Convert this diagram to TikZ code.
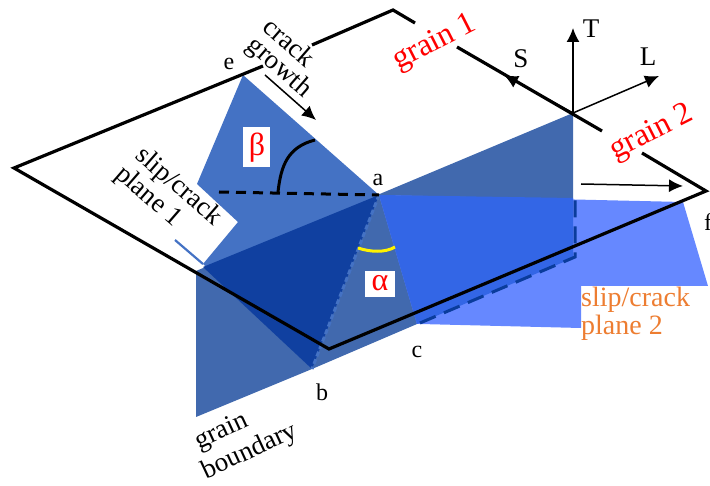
\documentclass[tikz,border=0pt]{standalone}
\usepackage{fontspec}
\setmainfont{Liberation Serif}
\usetikzlibrary{arrows.meta}
\definecolor{gbc}{HTML}{4169AE}
\definecolor{pone}{HTML}{4472C4}
\definecolor{ponedark}{HTML}{1040A0}
\definecolor{ptwo}{HTML}{6688FF}
\definecolor{ptwodark}{HTML}{3366E6}
\definecolor{dashblue}{HTML}{0A3C9C}
\definecolor{orangelab}{HTML}{ED7D31}
\tikzset{
  outline/.style={draw=black,line width=3.2pt,line join=miter},
  axis/.style={draw=black,line width=1.5pt,-{Latex[length=14pt,width=13pt]}},
  lab/.style={font=\fontsize{27}{27}\selectfont,inner sep=0pt,text=black},
  letterlab/.style={font=\fontsize{24}{24}\selectfont,inner sep=0pt,text=black},
  biglab/.style={font=\fontsize{27}{27}\selectfont,inner sep=0pt,text=black},
  redlab/.style={font=\fontsize{32}{32}\selectfont,inner sep=0pt,text=red},
  orlab/.style={font=\fontsize{28}{28}\selectfont,inner sep=0pt,text=orangelab,anchor=west}
}
\begin{document}
\begin{tikzpicture}[x=1pt,y=-1pt]
\useasboundingbox (0,0) rectangle (710,486);
\coordinate (a) at (379,195);
\coordinate (b) at (312,369);
\coordinate (c) at (417,324);
\coordinate (e) at (243,75);
\coordinate (f) at (706,191);
\coordinate (o) at (573,113);
\coordinate (lf) at (14,168);
\coordinate (top) at (393,10);
\coordinate (bot) at (329,349);
% grain boundary plane
\fill[gbc] (196,271) -- (o) -- (573,258) -- (c) -- (b) -- (196,417) -- cycle;
% slip plane 1
\fill[pone] (e) -- (a) -- (b) -- (203,264) -- (238,222) -- (197,184) -- cycle;
\fill[ponedark] (203,267) -- (a) -- (b) -- cycle;
\draw[pone,line width=2.2pt] (175,240) -- (203,264);
% slip plane 2
\fill[ptwo] (a) -- (683,202) -- (708,286) -- (581,286) -- (581,328) -- (420,324) -- (c) -- cycle;
\fill[ptwodark] (a) -- (573,198) -- (573,258) -- (c) -- cycle;
% white boxes
\fill[white] (243,127) rectangle (270,167);
\fill[white] (365,271) rectangle (395,297);
% lines in planes
\draw[pone,line width=3pt,dash pattern=on 5pt off 3pt] (a) -- (b);
\draw[black,line width=3pt,dash pattern=on 10pt off 7pt] (219,192) -- (a);
\draw[black,line width=3pt] (278,192) .. controls (281,165) and (288,147) .. (315,140);
\draw[yellow,line width=3pt] (358,248) .. controls (370,252) and (385,253) .. (395,247);
\draw[dashblue,line width=3pt,dash pattern=on 17pt off 9pt] (420,323) -- (575,257) -- (575,192);
% grain outline, broken where labels sit
\path[outline] (263,66) -- (lf) -- (bot) -- (f) -- (642,153);
\path[outline] (312,45) -- (top) -- (415,23);
\path[outline] (457,47) -- (602,131);
% axes
\draw[axis] (o) -- (573,28);
\draw[axis] (o) -- (659,76);
\draw[axis] (o) -- (504,75);
\draw[axis] (581,184) -- (683,186);
\draw[axis] (265,75) -- (316,120);
% labels
\node[biglab] (tT) at (591,29) {T};
\node[biglab] (tS) at (521,59) {S};
\node[biglab] (tL) at (648,57) {L};
\node[letterlab] (te) at (229,64) {e};
\node[letterlab] (ta) at (378,180) {a};
\node[letterlab] (tb) at (322,392) {b};
\node[letterlab] (tc) at (417,352) {c};
\node[letterlab] (tf) at (708,222) {f};
\node[redlab,rotate=27] (g1) at (435,43) {grain 1};
\node[redlab,rotate=27] (g2) at (652,133) {grain 2};
\node[lab,rotate=-41] (cr1) at (290,42) {crack};
\node[lab,rotate=-41] (cr2) at (279,68) {growth};
\node[lab,rotate=-41] (sl1) at (178,187) {slip/crack};
\node[lab,rotate=-41] (sl2) at (148,197) {plane 1};
\node[lab,rotate=25] (gb1) at (222,432) {grain};
\node[lab,rotate=25] (gb2) at (250,452) {boundary};
\node[orlab] (s21) at (581,300) {slip/crack};
\node[orlab] (s22) at (581,328) {plane 2};
\node[font=\fontsize{32}{32}\selectfont,inner sep=0pt,text=red] (tbeta) at (257,148) {β};
\node[font=\fontsize{32}{32}\selectfont,inner sep=0pt,text=red] (talpha) at (380,283) {α};
\end{tikzpicture}
\end{document}
